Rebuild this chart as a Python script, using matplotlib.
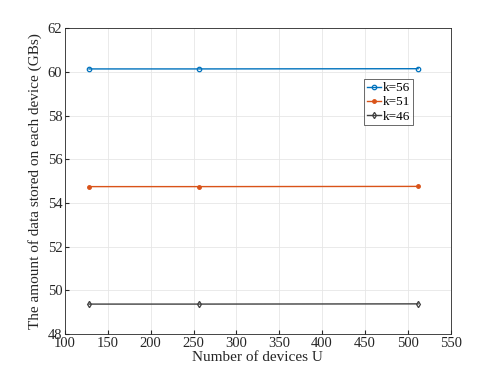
import matplotlib.pyplot as plt

U = [128, 256, 512]
k56 = [60.14, 60.14, 60.15]
k51 = [54.75, 54.75, 54.76]
k46 = [49.37, 49.37, 49.38]

plt.rcParams['font.family'] = ['Liberation Serif', 'DejaVu Serif']

fig = plt.figure(figsize=(4.98, 3.76), dpi=100)
ax = fig.add_axes([0.1305, 0.1117, 0.7745, 0.813])

ax.plot(U, k56, color='#0072BD', marker='o', ms=3.2, mfc='none', mew=0.9, lw=1, label='k=56')
ax.plot(U, k51, color='#D95319', marker='.', ms=5, lw=1, label='k=51')
ax.plot(U, k46, color='#404040', marker='d', ms=3.2, mfc='none', mew=0.9, lw=1, label='k=46')

ax.set_xlim(100, 550)
ax.set_ylim(48, 62)
ax.set_xticks(range(100, 551, 50))
ax.set_yticks(range(48, 63, 2))
ax.grid(True, color='#e6e6e6', lw=0.6)
ax.tick_params(direction='in', labelsize=10.5, colors='#262626', length=3, pad=2)
for s in ax.spines.values():
    s.set_color('#262626')
    s.set_linewidth(0.6)

ax.set_xlabel('Number of devices U', fontsize=11, color='#262626', labelpad=1)
ax.set_ylabel('The amount of data stored on each device (GBs)', fontsize=11, color='#262626', labelpad=4)

leg = ax.legend(loc='upper left', bbox_to_anchor=(0.775, 0.833), fontsize=9.5, frameon=True,
                fancybox=False, edgecolor='#262626', handlelength=1.1, handletextpad=0.15,
                borderpad=0.2, labelspacing=0.15, borderaxespad=0)
leg.get_frame().set_linewidth(0.6)

fig.savefig('out.png', dpi=100)
